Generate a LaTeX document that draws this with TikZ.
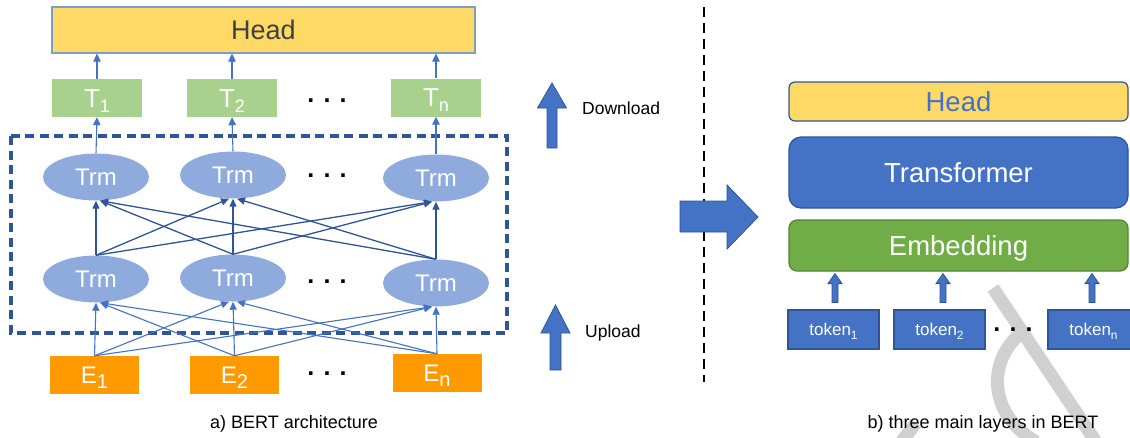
\documentclass[tikz,border=0pt]{standalone}
\usepackage{fontspec}
\setmainfont{Liberation Sans}
\usetikzlibrary{arrows.meta,calc,shapes.geometric}

\definecolor{headfill}{HTML}{FFD966}
\definecolor{headline}{HTML}{7F9CCB}
\definecolor{tfill}{HTML}{A9D18E}
\definecolor{efill}{HTML}{FF9900}
\definecolor{trmfill}{HTML}{8FAADC}
\definecolor{blueA}{HTML}{4472C4}
\definecolor{blueB}{HTML}{2F5597}
\definecolor{embfill}{HTML}{70AD47}
\definecolor{embline}{HTML}{548235}
\definecolor{headtext}{HTML}{404040}
\definecolor{wmark}{HTML}{D0D0D0}

% font size helper and lowered subscript
\newcommand\fs[1]{\fontsize{#1}{#1}\selectfont}
\newcommand\lowsub[3]{\raisebox{-#1}[0pt][0pt]{\fs{#2}#3}}
% vertical block arrow: style, bottom point, top point, half shaft, half head, head length
\newcommand\upblk[6]{\path[#1] let \p1=#2, \p2=#3 in
  (\x1-#4,\y1) -- (\x1-#4,\y2-#6) -- (\x1-#5,\y2-#6) -- (\x1,\y2) --
  (\x1+#5,\y2-#6) -- (\x1+#4,\y2-#6) -- (\x1+#4,\y1) -- cycle;}

\begin{document}
\begin{tikzpicture}[x=1pt,y=-1pt,
  every node/.style={inner sep=0pt},
  headL/.style={rectangle, fill=headfill, draw=headline, line width=1.2pt,
    minimum width=423pt, minimum height=46pt, text=headtext, font=\fs{27},
    text height=19.4pt, text depth=0pt},
  tbox/.style={rectangle, fill=tfill, minimum width=90pt, minimum height=38pt,
    text=white, font=\fs{26}, text height=18.7pt, text depth=0pt},
  ebox/.style={rectangle, fill=efill, minimum width=89pt, minimum height=38pt,
    text=white, font=\fs{24}, text height=17.3pt, text depth=0pt},
  trm/.style={ellipse, fill=trmfill, minimum width=106pt, minimum height=47pt,
    text=white, font=\fs{24}, text height=17.3pt, text depth=0pt},
  dots/.style={font=\fs{25}\bfseries},
  up/.style={blueA, line width=1.1pt, -{Triangle[length=8pt,width=7.5pt]}},
  mid/.style={blueB, line width=1.3pt, -{Triangle[length=8pt,width=7pt]}},
  low/.style={blueA, line width=1.1pt, -{Triangle[length=8pt,width=7pt]}},
  layer/.style={rectangle, minimum width=339pt, line width=1.2pt, font=\fs{27.5},
    text height=19.8pt, text depth=0pt},
  tok/.style={rectangle, fill=blueA, draw=blueB, line width=1.2pt,
    minimum width=91pt, minimum height=39pt, text=white, font=\fs{17},
    text height=12.2pt, text depth=0pt},
  blk/.style={fill=blueA, draw=blueB, line width=0.8pt},
  caption/.style={font=\fs{18}, anchor=base},
  legend/.style={font=\fs{17.5}, anchor=base west}]

\fill[white] (0,0) rectangle (1130,437);
\useasboundingbox (0,0) rectangle (1130,437);

% light grey letter strokes behind everything
\draw[wmark, line width=13pt] (993,288) -- (1096,442);
\draw[wmark, line width=13pt] (1021,333) .. controls (1003,348) and (995,370) .. (998,390)
  .. controls (1001,410) and (1012,427) .. (1036,442);
\draw[wmark, line width=13pt] (916,423) -- (899,445);

% ---------- a) BERT architecture ----------
\node[headL] (headL) at (263.5,30) {Head};

\node[tbox] (t1) at (97,98) {T\lowsub{5pt}{18}{1}};
\node[tbox] (t2) at (232,98) {T\lowsub{5pt}{18}{2}};
\node[tbox] (t3) at (436,97.5) {T\lowsub{5pt}{18}{n}};
\node[dots] (dT) at (327,101) {. . .};

\node[trm] (a1) at (96,177) {Trm};
\node[trm] (a2) at (233,175) {Trm};
\node[trm] (a3) at (436,178) {Trm};
\node[dots] (dA) at (327,176) {. . .};

\node[trm] (b1) at (96,279) {Trm};
\node[trm] (b2) at (233,278) {Trm};
\node[trm] (b3) at (436,283) {Trm};
\node[dots] (dB) at (327,282) {. . .};

\node[ebox] (e1) at (94.5,375) {E\lowsub{5pt}{20}{1}};
\node[ebox] (e2) at (234.5,375) {E\lowsub{5pt}{20}{2}};
\node[ebox] (e3) at (437,373) {E\lowsub{5pt}{20}{n}};
\node[dots] (dE) at (327,374) {. . .};

% dashed frame around the transformer layers
\draw[blueB, line width=3.6pt, dash pattern=on 9pt off 5.5pt] (11,136) rectangle (507,333);

\foreach \i in {1,2,3}{
  \draw[up] (t\i.north) -- (t\i.north |- headL.south);
  \draw[up] (a\i.north) -- (t\i.south);
}
\foreach \i in {1,2,3}{
  \foreach \j in {1,2,3}{
    \pgfmathsetmacro\off{(\i<\j) ? -4 : ((\i>\j) ? 4 : 0)}
    \draw[mid] (b\i.north) -- ($(a\j.south)+(\off,0)$);
    \draw[low] (e\i.north) -- ($(b\j.south)+(\off,0)$);
  }
}

\node[caption] (capA) at (294,428) {a) BERT architecture};

% legend arrows
\path[blk] (547,148) -- (547,108) -- (537.5,108) -- (552,83) -- (566.5,108)
  -- (557,108) -- (557,148) -- cycle;
\node[legend] (down) at (582,114) {Download};
\path[blk] (550,370) -- (550,333) -- (541,333) -- (555.5,305) -- (570,333)
  -- (561,333) -- (561,370) -- cycle;
\node[legend] (upl) at (585,337) {Upload};

% divider
\draw[black, line width=2pt, dash pattern=on 10pt off 6pt] (703.5,7) -- (703.5,382);

% big arrow to the right
\path[blk] (680,201) -- (727,201) -- (727,185) -- (758,217) -- (727,249)
  -- (727,232) -- (680,232) -- cycle;

% ---------- b) three main layers ----------
\node[layer, rounded corners=6pt, fill=headfill, draw=blueB, minimum height=39pt,
  text=blueA] (headR) at (958.5,101.5) {Head};
\node[layer, rounded corners=12pt, fill=blueA, draw=blueB, minimum height=71pt,
  text=white] (trans) at (958.5,172.5) {Transformer};
\node[layer, rounded corners=8pt, fill=embfill, draw=embline, minimum height=51pt,
  text=white] (emb) at (958.5,245.5) {Embedding};

\node[tok] (k1) at (833.5,329.5) {token\lowsub{4pt}{12}{1}};
\node[tok] (k2) at (939.5,329.5) {token\lowsub{4pt}{12}{2}};
\node[tok] (k3) at (1093.5,329.5) {token\lowsub{4pt}{12}{n}};
\node[dots] (dK) at (1013,330) {. . .};

\upblk{blk}{($(k1.north)+(1.5,-7)$)}{($(k1.north |- emb.south)+(1.5,2)$)}{3pt}{7pt}{10pt}
\upblk{blk}{($(k2.north)+(3.5,-7)$)}{($(k2.north |- emb.south)+(3.5,2)$)}{3pt}{7pt}{10pt}
\upblk{blk}{($(k3.north)+(-1.5,-7)$)}{($(k3.north |- emb.south)+(-1.5,2)$)}{3pt}{7pt}{10pt}

\node[caption] (capB) at (983,428) {b) three main layers in BERT};
\end{tikzpicture}
\end{document}
